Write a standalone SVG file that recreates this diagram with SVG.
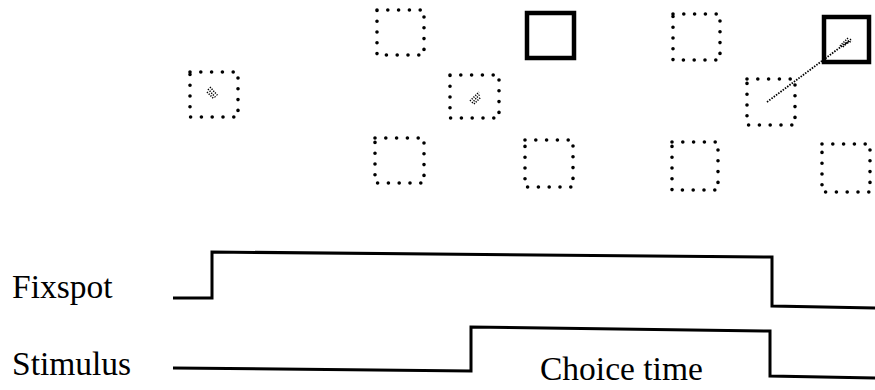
<svg xmlns="http://www.w3.org/2000/svg" width="875" height="390" viewBox="0 0 875 390">
<style>
.dot{fill:none;stroke:#000;stroke-width:3.6;stroke-linecap:round;stroke-dasharray:0 10.8}
.solid{fill:none;stroke:#000;stroke-width:4.5}
.sig{fill:none;stroke:#000;stroke-width:3;stroke-linejoin:miter}
.lbl{font-family:"Liberation Serif","Times New Roman",serif;font-size:33.5px;fill:#000}
.blob{fill:none;stroke:#000;stroke-width:1.5;stroke-dasharray:1.2 1.3}
.trace{fill:none;stroke:#000;stroke-width:1.8;stroke-dasharray:1.5 1.3}
</style>
<rect width="875" height="390" fill="#fff"/>
<g id="panel1">
  <rect class="dot" x="190" y="72" width="48" height="45"/>
  <g id="blob1"><path class="blob" d="M208 89 L216 98 M210 87 L218 96 M207 92 L214 99"/></g>
</g>
<g id="panel2">
  <rect class="dot" x="377" y="10" width="47" height="45"/>
  <rect class="dot" x="450" y="75" width="49" height="43"/>
  <rect class="dot" x="375" y="138" width="49" height="45"/>
  <g id="blob2"><path class="blob" d="M470 101 L479 92 M472 103 L480 94 M474 104 L481 97"/></g>
</g>
<g id="panel3">
  <rect class="solid" x="527" y="13" width="47" height="45"/>
  <rect class="dot" x="525" y="140" width="48" height="47"/>
</g>
<g id="panel4">
  <rect class="dot" x="673" y="14" width="47" height="46"/>
  <rect class="dot" x="747" y="79" width="48" height="46"/>
  <rect class="dot" x="672" y="142" width="46" height="48"/>
  <rect class="solid" x="824" y="17" width="45" height="45"/>
  <rect class="dot" x="822" y="144" width="48" height="48"/>
  <g id="trace"><path class="trace" d="M767 102 L850 40"/><path class="blob" d="M840 46 L848 38 M843 47 L851 39 M845 44 L852 41"/></g>
</g>
<g id="fixspot">
  <text class="lbl" x="12" y="298">Fixspot</text>
  <path class="sig" d="M173 298 L212 298 L212 252 L772 257 L772 306 L875 308"/>
</g>
<g id="stimulus">
  <text class="lbl" x="12" y="375">Stimulus</text>
  <path class="sig" d="M173 368 L471 371 L471 327 L770 331 L770 376 L875 378"/>
</g>
<g id="choice">
  <text class="lbl" x="540" y="380">Choice time</text>
</g>
</svg>
